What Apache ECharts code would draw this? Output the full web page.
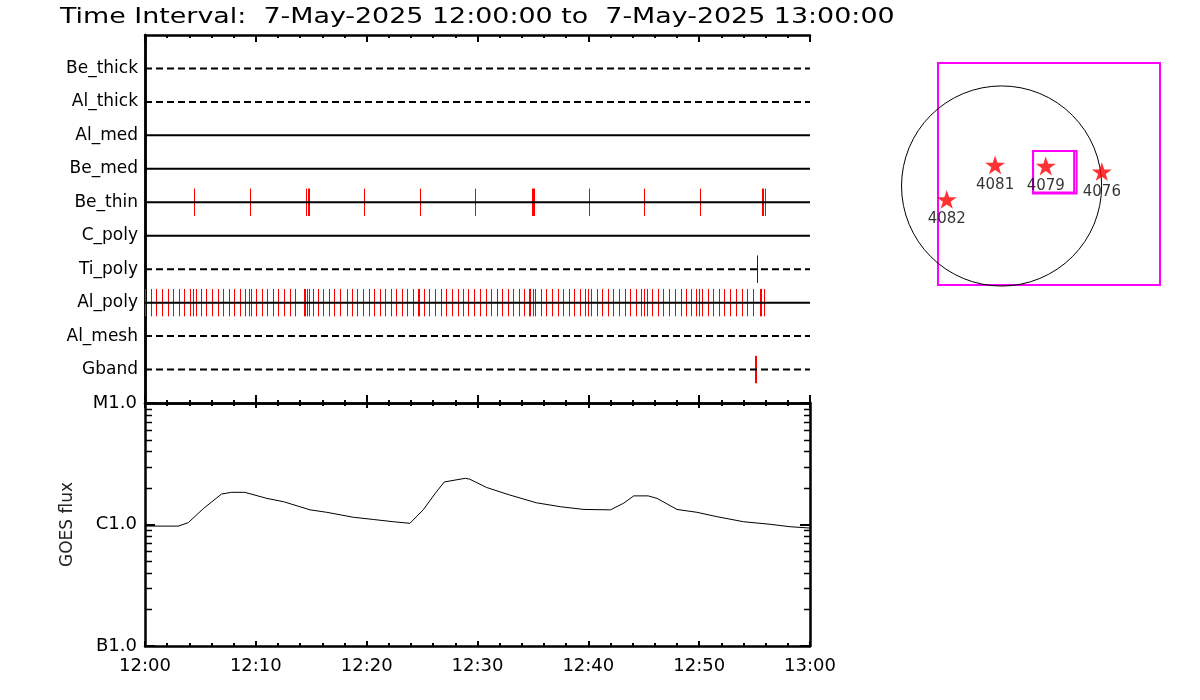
<!DOCTYPE html>
<html><head><meta charset="utf-8">
<script src="https://cdn.jsdelivr.net/npm/echarts@6/dist/echarts.min.js"></script>
<style>html,body{margin:0;padding:0;background:#fff}#c{width:1200px;height:700px}</style>
</head><body><div id="c"></div>
<script>
// ---------- data ----------
const titleText = 'Time Interval:  7-May-2025 12:00:00 to  7-May-2025 13:00:00';
const rowNames = ['Be_thick','Al_thick','Al_med','Be_med','Be_thin','C_poly','Ti_poly','Al_poly','Al_mesh','Gband'];
const rowDashed = [true,true,false,false,false,false,true,false,true,true];
const timeLabels = ['12:00','12:10','12:20','12:30','12:40','12:50','13:00'];
// event times, minutes after 12:00
const beThinTimes = [4.45,9.50,14.55,14.73,14.82,19.79,24.84,29.80,34.89,34.98,35.10,40.09,45.05,50.10,55.70,55.79,55.94];
const tiPolyTimes = [55.25];
const alPolyTimes = [0.03,0.57,1.02,1.56,2.05,2.55,3.09,3.55,4.09,4.36,4.63,5.08,5.53,6.07,6.61,7.07,7.61,8.06,8.60,9.05,9.41,9.59,
  10.04,10.58,11.04,11.58,12.03,12.57,13.11,13.56,14.37,14.46,14.64,14.82,15.19,15.64,16.09,16.63,17.08,17.62,18.25,18.71,19.16,19.70,
  20.24,20.69,21.23,21.68,22.22,22.68,23.22,23.67,24.21,24.66,24.75,25.20,25.65,26.19,26.73,27.19,27.73,28.27,28.72,29.17,29.71,
  30.25,30.74,31.25,31.73,32.24,32.73,33.23,33.72,34.22,34.68,34.77,35.04,35.22,35.76,36.21,36.75,37.24,37.74,38.23,38.74,39.25,39.73,
  40.00,40.27,40.76,41.26,41.78,42.26,42.80,43.28,43.79,44.28,44.78,45.02,45.32,45.77,46.26,46.77,47.31,47.80,48.34,48.84,49.29,49.75,
  50.02,50.29,50.80,51.28,51.79,52.27,52.81,53.30,53.84,54.29,54.83,55.52,55.61,55.88];
const gbandTimes = [55.07,55.16];
const goesTimes = [0,3.0,3.9,5.3,6.9,7.8,9.0,11.0,12.5,14.9,16.4,18.8,20.6,22.4,23.9,25.1,26.2,27.0,28.9,29.3,30.8,32.9,35.3,37.5,39.6,42.0,43.2,44.1,45.4,46.2,48.0,49.8,51.6,54.0,56.4,58.2,60.0];
const goesFlux = [0.97e-6,0.97e-6,1.035e-6,1.36e-6,1.78e-6,1.84e-6,1.84e-6,1.64e-6,1.54e-6,1.32e-6,1.26e-6,1.147e-6,1.10e-6,1.054e-6,1.023e-6,
  1.32e-6,1.81e-6,2.24e-6,2.40e-6,2.36e-6,2.02e-6,1.75e-6,1.51e-6,1.40e-6,1.33e-6,1.32e-6,1.50e-6,1.72e-6,1.72e-6,1.64e-6,1.33e-6,1.26e-6,
  1.16e-6,1.054e-6,1.004e-6,0.959e-6,0.935e-6];
const goesTickLabels = {'-7':'B1.0','-6':'C1.0','-5':'M1.0'};
const goesMinorTicks = [2e-7,3e-7,4e-7,5e-7,6e-7,7e-7,8e-7,9e-7,2e-6,3e-6,4e-6,5e-6,6e-6,7e-6,8e-6,9e-6];
const regionNames = ['4082','4081','4079','4076'];
const regionX = [-526,-62,424,962];
const regionY = [-128,202,192,137];
const limbRadius = 960;
const fovBoxes = [[302,-62,696,336],[302,-72,720,336]];

// ---------- chart ----------
const FONT = 'DejaVu Sans';
const chart = echarts.init(document.getElementById('c'), null, {renderer:'canvas'});
const starPath = 'path://M50,0 L61.8,35.1 L98.1,35.1 L68.7,56.7 L79.4,90.5 L50,69.6 L20.6,90.5 L31.3,56.7 L1.9,35.1 L38.2,35.1 Z';

function timeAxis(gridIndex, position, opts) {
  return Object.assign({
    type:'value', gridIndex, position, min:0, max:60, interval:10,
    axisLine:{show:true, onZero:false, lineStyle:{color:'#000', width:2.5}},
    axisTick:{show:true, inside:true, length:7, lineStyle:{color:'#000', width:2}},
    minorTick:{show:true, splitNumber:5, length:3, lineStyle:{color:'#000', width:2}},
    axisLabel:{show:false}, splitLine:{show:false}
  }, opts || {});
}

const rowSeries = rowNames.map((n,i)=>({
  type:'line', xAxisIndex:0, yAxisIndex:0, symbol:'none', silent:true,
  data:[[0,i+1],[60,i+1]],
  lineStyle:{color:'#000', width:2, type: rowDashed[i] ? [7,4] : 'solid'}
}));

function eventSeries(times, row, color) {
  return {
    type:'custom', xAxisIndex:0, yAxisIndex:0, silent:true,
    data: times.map(t=>[t,row]),
    renderItem:(params, api)=>{
      const t = api.value(0), r = api.value(1);
      const p1 = api.coord([t, r-0.41]), p2 = api.coord([t, r+0.41]);
      const x = Math.round(p1[0]) + 0.5;
      return {type:'line', shape:{x1:x, y1:p1[1], x2:x, y2:p2[1]}, style:{stroke:color, lineWidth:1}};
    }
  };
}

const option = {
  backgroundColor:'#fff',
  animation:false,
  graphic:[
    {type:'text', left:60, top:7, scaleX:1.28, scaleY:1, originX:0,
      style:{text:titleText, fontFamily:FONT, fontSize:21, fill:'#000'}}
  ],
  grid:[
    {left:145, top:35, width:665, height:368},
    {left:145, top:403, width:665, height:243},
    {left:938, top:63, width:222, height:222, show:true, borderColor:'#ff00ff', borderWidth:2, backgroundColor:'transparent'}
  ],
  xAxis:[
    timeAxis(0,'bottom',{axisTick:{show:true, inside:true, length:8, lineStyle:{color:'#000', width:2}}}),
    timeAxis(0,'top'),
    timeAxis(1,'bottom',{
      axisTick:{show:true, inside:true, length:5, lineStyle:{color:'#000', width:2}},
      minorTick:{show:true, splitNumber:5, length:3, lineStyle:{color:'#000', width:2}},
      axisLabel:{show:true, margin:11, fontFamily:FONT, fontSize:18, color:'#000',
        formatter:(v)=>timeLabels[Math.round(v/10)] || ''}
    }),
    timeAxis(1,'top',{axisTick:{show:true, inside:true, length:5, lineStyle:{color:'#000', width:2}}}),
    {type:'value', gridIndex:2, min:-610, max:1520, show:false}
  ],
  yAxis:[
    {type:'value', gridIndex:0, position:'left', min:0, max:11, interval:1, inverse:true,
      axisLine:{show:true, lineStyle:{color:'#000', width:2.5}}, axisTick:{show:false}, splitLine:{show:false},
      axisLabel:{show:true, margin:7, fontFamily:FONT, fontSize:17, color:'#000',
        formatter:(v)=>rowNames[v-1] || ''}},
    {type:'value', gridIndex:0, position:'right', min:0, max:11, interval:1, inverse:true,
      axisLine:{show:true, lineStyle:{color:'#000', width:2.5}}, axisTick:{show:false}, splitLine:{show:false}, axisLabel:{show:false}},
    {type:'log', logBase:10, gridIndex:1, position:'left', min:1e-7, max:1e-5,
      axisLine:{show:true, onZero:false, lineStyle:{color:'#000', width:2.5}},
      axisTick:{show:true, inside:true, length:10, lineStyle:{color:'#000', width:2}},
      splitLine:{show:false},
      name:'GOES flux', nameLocation:'middle', nameRotate:90, nameGap:69,
      nameTextStyle:{fontFamily:FONT, fontSize:17, color:'#222'},
      axisLabel:{show:true, margin:8, fontFamily:FONT, fontSize:18, color:'#000',
        formatter:(v)=>{const e = Math.log10(v); const r = Math.round(e); return Math.abs(e-r)<1e-6 ? (goesTickLabels[String(r)]||'') : '';}}},
    {type:'log', logBase:10, gridIndex:1, position:'right', min:1e-7, max:1e-5,
      axisLine:{show:true, onZero:false, lineStyle:{color:'#000', width:2.5}},
      axisTick:{show:true, inside:true, length:10, lineStyle:{color:'#000', width:2}},
      splitLine:{show:false}, axisLabel:{show:false}},
    {type:'value', gridIndex:2, min:-950, max:1180, show:false}
  ],
  series:[
    ...rowSeries,
    eventSeries(beThinTimes, 5, '#ff0000'),
    eventSeries(alPolyTimes, 8, '#ff0000'),
    eventSeries(gbandTimes, 10, '#ff0000'),
    eventSeries(tiPolyTimes, 7, '#0000ff'),
    {type:'line', xAxisIndex:2, yAxisIndex:2, symbol:'none', silent:true,
      data: goesTimes.map((t,i)=>[t, goesFlux[i]]),
      lineStyle:{color:'#000', width:1}},
    {type:'custom', xAxisIndex:2, yAxisIndex:2, silent:true,
      data: goesMinorTicks.map(v=>[0,v]),
      renderItem:(params, api)=>{
        const v = api.value(1);
        const pl = api.coord([0, v]), pr = api.coord([60, v]);
        const y = Math.round(pl[1]) + 0.5;
        return {type:'group', children:[
          {type:'line', shape:{x1:pl[0], y1:y, x2:pl[0]+7, y2:y}, style:{stroke:'#000', lineWidth:1.5}},
          {type:'line', shape:{x1:pr[0]-6, y1:y, x2:pr[0], y2:y}, style:{stroke:'#000', lineWidth:1.5}}
        ]};
      }},
    {type:'custom', xAxisIndex:4, yAxisIndex:4, silent:true, clip:false,
      data:[[0,0]],
      renderItem:(params, api)=>{
        const c = api.coord([0,0]);
        const r = api.size([limbRadius, 0])[0];
        return {type:'circle', shape:{cx:c[0], cy:c[1], r:r}, style:{fill:'none', stroke:'#000', lineWidth:1}};
      }},
    {type:'custom', xAxisIndex:4, yAxisIndex:4, silent:true, clip:false,
      data: fovBoxes,
      renderItem:(params, api)=>{
        const a = api.coord([api.value(0), api.value(3)]);
        const b = api.coord([api.value(2), api.value(1)]);
        return {type:'rect', shape:{x:a[0], y:a[1], width:b[0]-a[0], height:b[1]-a[1]}, style:{fill:'none', stroke:'#ff00ff', lineWidth:2}};
      }},
    {type:'scatter', xAxisIndex:4, yAxisIndex:4, silent:true,
      symbol:starPath, symbolSize:20, symbolKeepAspect:true,
      itemStyle:{color:'#ff0000'},
      data: regionNames.map((n,i)=>({name:n, value:[regionX[i], regionY[i]]})),
      label:{show:true, position:'bottom', distance:3, formatter:'{b}', fontFamily:FONT, fontSize:15, color:'#000'}}
  ]
};
chart.setOption(option);
</script></body></html>
